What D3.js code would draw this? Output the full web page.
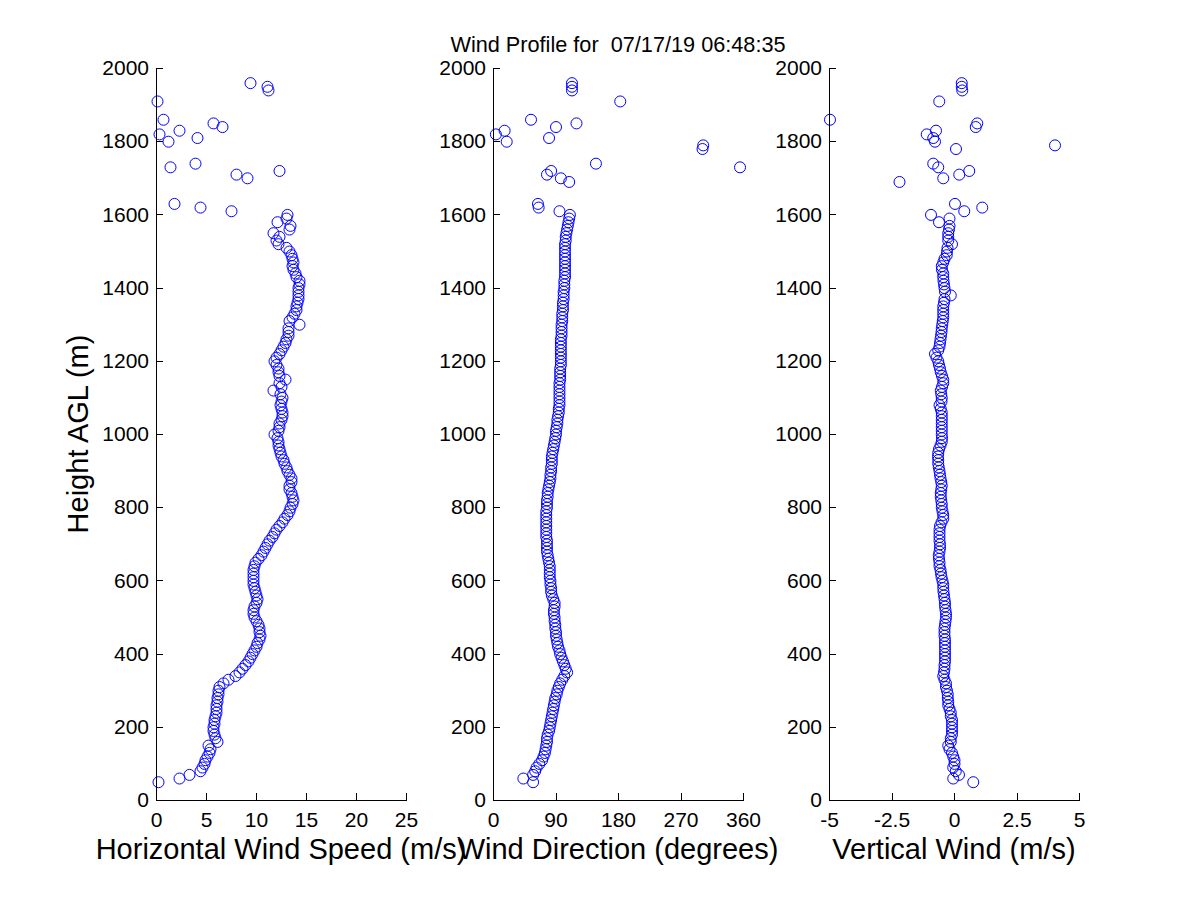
<!DOCTYPE html>
<html>
<head>
<meta charset="utf-8">
<script src="https://d3js.org/d3.v7.min.js"></script>
<style>
body {
    margin: 0;
    background: #fff;
}
text {
    font-family: "Liberation Sans", Arial, sans-serif;
    fill: #000;
}
.tick text {
    font-size: 21px;
}
.axis path,
.axis line {
    stroke: #000;
    shape-rendering: crispEdges;
}
.pt {
    fill: none;
    stroke: #0000ff;
    stroke-width: 1;
}
</style>
</head>
<body>
<script>

// range gates (m AGL) for the continuous part of the profile
var heights = [
    50, 60, 70, 80, 90, 100, 110, 120, 130, 140,
    150, 160, 170, 180, 190, 200, 210, 220, 230, 240,
    250, 260, 270, 280, 290, 300, 310, 320, 330, 340,
    350, 360, 370, 380, 390, 400, 410, 420, 430, 440,
    450, 460, 470, 480, 490, 500, 510, 520, 530, 540,
    550, 560, 570, 580, 590, 600, 610, 620, 630, 640,
    650, 660, 670, 680, 690, 700, 710, 720, 730, 740,
    750, 760, 770, 780, 790, 800, 810, 820, 830, 840,
    850, 860, 870, 880, 890, 900, 910, 920, 930, 940,
    950, 960, 970, 980, 990, 1000, 1010, 1020, 1030, 1040,
    1050, 1060, 1070, 1080, 1090, 1100, 1110, 1120, 1130, 1140,
    1150, 1160, 1170, 1180, 1190, 1200, 1210, 1220, 1230, 1240,
    1250, 1260, 1270, 1280, 1290, 1300, 1310, 1320, 1330, 1340,
    1350, 1360, 1370, 1380, 1390, 1400, 1410, 1420, 1430, 1440,
    1450, 1460, 1470, 1480, 1490, 1500, 1510, 1520, 1530, 1540,
    1550, 1560, 1570, 1580, 1590, 1600
];

// horizontal wind speed (m/s)
var speed = [
    0.2, 2.3, 3.3, 4.4, 4.6, 4.8, 4.9, 5.1, 5.3, 5.4,
    5.2, 6.1, 5.9, 5.8, 5.7, 5.7, 5.8, 5.8, 5.9, 6.0,
    6.0, 6.0, 6.1, 6.1, 6.2, 6.2, 6.3, 6.7, 7.2, 7.9,
    8.3, 8.6, 8.9, 9.2, 9.4, 9.6, 9.8, 10.0, 10.1, 10.3,
    10.4, 10.3, 10.3, 10.2, 10.0, 9.8, 9.7, 9.7, 9.8, 10.0,
    10.1, 10.0, 9.9, 9.8, 9.7, 9.7, 9.7, 9.7, 9.7, 9.8,
    9.9, 10.2, 10.5, 10.7, 10.9, 11.1, 11.3, 11.6, 11.8, 12.0,
    12.3, 12.6, 12.8, 13.1, 13.3, 13.4, 13.6, 13.7, 13.6, 13.5,
    13.3, 13.3, 13.5, 13.5, 13.3, 13.1, 13.0, 12.8, 12.7, 12.5,
    12.4, 12.3, 12.2, 12.2, 12.1, 11.8, 12.2, 12.3, 12.3, 12.5,
    12.6, 12.6, 12.5, 12.4, 12.5, 12.6, 12.4, 11.7, 12.5, 12.3,
    12.9, 12.3, 12.2, 12.2, 12.0, 11.8, 12.0, 12.3, 12.5, 12.7,
    12.9, 13.0, 13.2, 13.2, 13.2, 14.3, 13.3, 13.6, 13.8, 14.0,
    14.0, 14.1, 14.2, 14.2, 14.2, 14.2, 14.3, 14.3, 14.0, 13.9,
    13.7, 13.6, 13.7, 13.6, 13.5, 13.3, 13.0, 12.2, 12.0, 12.3,
    11.7, 13.3, 13.4, 12.1, 13.0, 13.1
];

// wind direction (degrees)
var direction = [
    57, 43, 57, 60, 62, 66, 70, 72, 74, 75,
    76, 77, 77, 78, 80, 81, 82, 83, 84, 85,
    86, 87, 88, 89, 91, 92, 94, 96, 99, 102,
    106, 104, 102, 100, 98, 96, 95, 93, 92, 91,
    90, 90, 89, 89, 88, 88, 87, 87, 88, 88,
    86, 84, 83, 83, 82, 82, 81, 81, 81, 81,
    80, 79, 78, 77, 77, 77, 77, 76, 76, 76,
    76, 76, 76, 76, 76, 77, 77, 77, 78, 78,
    79, 80, 81, 82, 82, 83, 83, 84, 84, 84,
    85, 86, 87, 88, 89, 90, 90, 91, 92, 92,
    93, 94, 94, 95, 95, 95, 95, 95, 95, 95,
    96, 96, 96, 96, 97, 97, 97, 97, 97, 97,
    97, 97, 98, 98, 98, 98, 99, 99, 99, 100,
    100, 100, 101, 101, 101, 102, 102, 102, 103, 103,
    103, 103, 103, 103, 103, 103, 103, 103, 104, 104,
    105, 106, 107, 108, 109, 110
];

// vertical wind (m/s)
var vertical = [
    0.75, -0.05, 0.18, 0.05, -0.05, 0.0, 0.0, -0.05, -0.1, -0.2,
    -0.25, -0.15, -0.15, -0.1, -0.1, -0.1, -0.1, -0.1, -0.15, -0.15,
    -0.2, -0.25, -0.25, -0.27, -0.27, -0.3, -0.34, -0.34, -0.4, -0.45,
    -0.42, -0.4, -0.4, -0.38, -0.38, -0.38, -0.38, -0.38, -0.38, -0.38,
    -0.4, -0.4, -0.4, -0.38, -0.36, -0.34, -0.34, -0.36, -0.38, -0.38,
    -0.4, -0.42, -0.44, -0.45, -0.45, -0.48, -0.52, -0.54, -0.56, -0.6,
    -0.6, -0.62, -0.63, -0.6, -0.58, -0.58, -0.6, -0.6, -0.6, -0.6,
    -0.58, -0.52, -0.45, -0.45, -0.48, -0.51, -0.51, -0.53, -0.55, -0.55,
    -0.53, -0.51, -0.53, -0.56, -0.58, -0.6, -0.63, -0.65, -0.65, -0.66,
    -0.65, -0.62, -0.56, -0.51, -0.5, -0.51, -0.51, -0.51, -0.51, -0.51,
    -0.51, -0.51, -0.55, -0.6, -0.52, -0.51, -0.53, -0.55, -0.5, -0.45,
    -0.45, -0.5, -0.55, -0.58, -0.62, -0.65, -0.72, -0.78, -0.65, -0.6,
    -0.58, -0.56, -0.54, -0.52, -0.51, -0.49, -0.47, -0.45, -0.45, -0.45,
    -0.45, -0.42, -0.4, -0.15, -0.38, -0.4, -0.42, -0.44, -0.45, -0.45,
    -0.5, -0.51, -0.45, -0.4, -0.31, -0.3, -0.28, -0.1, -0.25, -0.25,
    -0.25, -0.22, -0.2, -0.62, -0.2, -0.94
];

// noisy returns above ~1600 m, each panel has its own gates
var speedTopH = [1610, 1620, 1630, 1700, 1710, 1720, 1730, 1740, 1800, 1810,
                 1820, 1830, 1840, 1850, 1860, 1910, 1940, 1950, 1960];
var speedTop  = [7.5, 4.4, 1.8, 9.1, 8.0, 12.3, 1.4, 3.9, 1.2, 4.1,
                 0.3, 2.3, 6.6, 5.7, 0.7, 0.1, 11.2, 11.1, 9.4];

var directionTopH = [1610, 1620, 1630, 1690, 1700, 1710, 1720, 1730, 1740, 1780, 1790,
                     1800, 1810, 1820, 1830, 1840, 1850, 1860, 1910, 1940, 1950, 1960];
var directionTop  = [95, 65, 64, 109, 97, 77, 83, 355, 147.5, 301, 302,
                     19, 80, 3.4, 16, 90, 119.5, 54, 182.5, 113, 113, 113];

var verticalTopH = [1610, 1620, 1630, 1690, 1700, 1710, 1720, 1730, 1740, 1780, 1790,
                    1800, 1810, 1820, 1830, 1840, 1850, 1860, 1910, 1940, 1950, 1960];
var verticalTop  = [0.39, 1.11, 0.02, -2.2, -0.45, 0.19, 0.59, -0.65, -0.85, 0.06, 4.02,
                    -0.78, -0.85, -1.11, -0.74, 0.85, 0.91, -4.98, -0.61, 0.31, 0.29, 0.29];

// tick labels
var heightTicks = [0, 200, 400, 600, 800, 1000, 1200, 1400, 1600, 1800, 2000];
var speedTicks = [0, 5, 10, 15, 20, 25];
var directionTicks = [0, 90, 180, 270, 360];
var verticalTicks = [-5, -2.5, 0, 2.5, 5];

var titleText = "Wind Profile for  07/17/19 06:48:35";

var width = 1200, height = 900;
var plotW = 250;

var svg = d3.select("body").append("svg")
    .attr("width", width)
    .attr("height", height);

var y = d3.scaleLinear()
    .domain([0, 2000])
    .range([800, 68]);

var panels = [
    { left: 156, domain: [0, 25], ticks: speedTicks, low: speed, topH: speedTopH, top: speedTop,
      label: "Horizontal Wind Speed (m/s)" },
    { left: 493, domain: [0, 360], ticks: directionTicks, low: direction, topH: directionTopH, top: directionTop,
      label: "Wind Direction (degrees)" },
    { left: 829, domain: [-5, 5], ticks: verticalTicks, low: vertical, topH: verticalTopH, top: verticalTop,
      label: "Vertical Wind (m/s)" }
];

panels.forEach(function(p) {
    var g = svg.append("g")
        .attr("transform", "translate(" + p.left + ",0)");

    var x = d3.scaleLinear()
        .domain(p.domain)
        .range([0, plotW]);

    var pts = heights.map(function(h, i) { return { h: h, v: p.low[i] }; })
        .concat(p.topH.map(function(h, i) { return { h: h, v: p.top[i] }; }));

    g.selectAll(".pt")
        .data(pts)
      .enter().append("circle")
        .attr("class", "pt")
        .attr("cx", function(d) { return x(d.v) + 0.5; })
        .attr("cy", function(d) { return y(d.h) + 0.5; })
        .attr("r", 5.5);

    g.append("g")
        .attr("class", "axis")
        .call(d3.axisLeft(y)
            .tickValues(heightTicks)
            .tickFormat(d3.format("d"))
            .tickSizeInner(-7)
            .tickSizeOuter(0)
            .tickPadding(7));

    g.append("g")
        .attr("class", "axis")
        .attr("transform", "translate(0,800)")
        .call(d3.axisBottom(x)
            .tickValues(p.ticks)
            .tickFormat(function(d) { return String(d); })
            .tickSizeInner(-7)
            .tickSizeOuter(0)
            .tickPadding(12));

    g.append("text")
        .attr("x", plotW / 2)
        .attr("y", 859)
        .attr("text-anchor", "middle")
        .style("font-size", "29px")
        .text(p.label);
});

svg.selectAll(".axis .tick text").attr("fill", "#000");

// title over the middle panel
svg.append("text")
    .attr("x", 493 + plotW / 2)
    .attr("y", 52)
    .attr("text-anchor", "middle")
    .style("font-size", "21.7px")
    .style("white-space", "pre")
    .text(titleText);

svg.append("text")
    .attr("transform", "translate(88,434) rotate(-90)")
    .attr("text-anchor", "middle")
    .style("font-size", "29px")
    .text("Height AGL (m)");

</script>
</body>
</html>
